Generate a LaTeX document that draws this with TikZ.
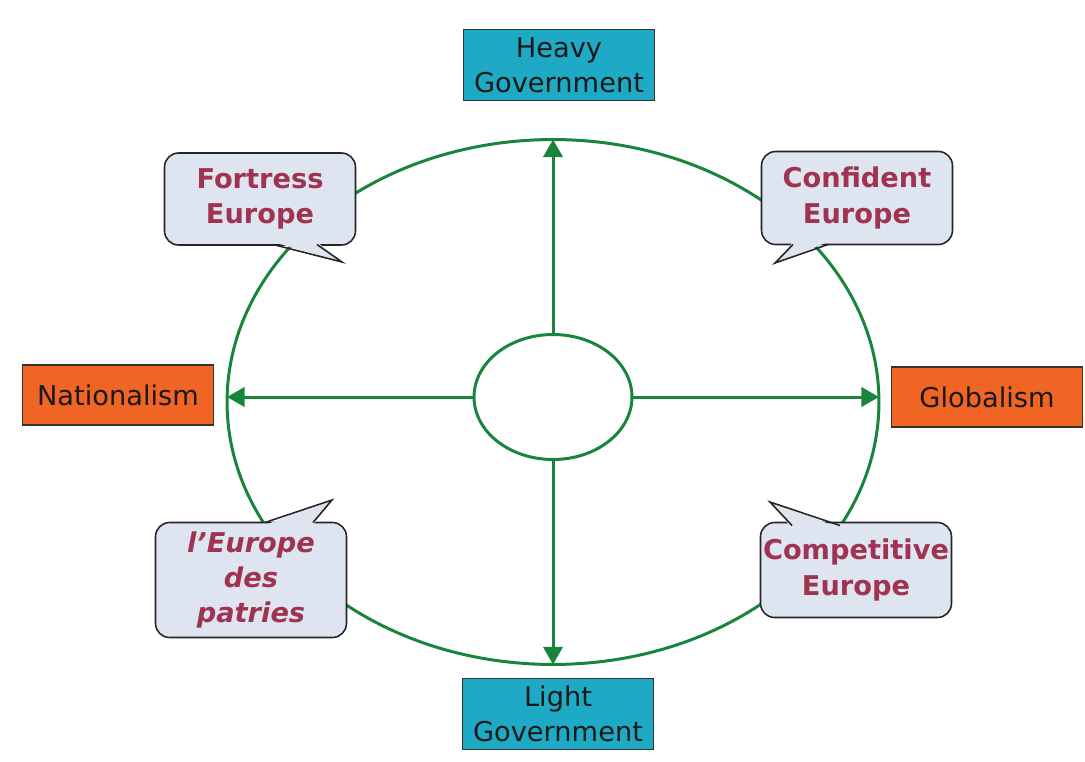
\documentclass[tikz,border=0pt]{standalone}
\usepackage{fontspec}
\setmainfont{DejaVu Sans}
\usetikzlibrary{shapes,arrows,arrows.meta,calc,positioning}
\definecolor{ringgreen}{RGB}{24,132,60}
\definecolor{govcyan}{RGB}{30,170,196}
\definecolor{nationorange}{RGB}{240,100,36}
\definecolor{bubble}{RGB}{222,228,240}
\definecolor{claret}{RGB}{160,52,80}

\begin{document}
\begin{tikzpicture}[x=0.02cm,y=-0.02cm,
    axis/.style={line width=1.7pt,draw=ringgreen,-{Triangle[length=10pt,width=11pt]},fill=ringgreen},
    pole/.style={draw=black!80,line width=0.8pt,minimum width=3.82cm,align=center,inner sep=0pt,
      font=\fontsize{15.5}{20}\selectfont,text=black!90},
    gov/.style={pole,fill=govcyan,minimum height=1.42cm},
    ism/.style={pole,fill=nationorange,minimum height=1.2cm},
    bubbletext/.style={draw=black!85,line width=0.9pt,fill=bubble,rounded corners=8pt,align=center,
      minimum width=3.82cm,inner sep=0pt,text=claret,font=\fontsize{15.5}{20}\selectfont\bfseries},
    tail/.style={draw=black!85,line width=0.9pt,line join=miter}]
    \useasboundingbox (0,0) rectangle (1085,761);

    \node[ellipse,draw=ringgreen,line width=1.7pt,minimum width=13.04cm,minimum height=10.5cm,inner sep=0pt,outer sep=0pt] (ring) at (553,402) {};
    \node[ellipse,draw=ringgreen,line width=1.7pt,minimum width=3.16cm,minimum height=2.5cm,inner sep=0pt,outer sep=0pt] (hub) at (553,397) {};

    \draw[axis] (hub.north) -- (ring.north);
    \draw[axis] (hub.south) -- (ring.south);
    \draw[axis] (hub.west) -- (hub.west -| ring.west);
    \draw[axis] (hub.east) -- (hub.east -| ring.east);

    \node[gov] (heavy) at (559,65) {Heavy\\Government};
    \node[gov] (light) at (558,714) {Light\\Government};
    \node[ism] (nation) at (118,395) {Nationalism};
    \node[ism] (global) at (987,397) {Globalism};

    % speech bubbles
    \node[bubbletext,minimum height=1.84cm] (fortress) at (260,199) {Fortress\\Europe};
    \coordinate (fortressTip) at (342,262);
    \fill[bubble] (273,242) -- (fortressTip) -- (317,242) -- cycle;
    \draw[tail] (273,244.5) -- (fortressTip) -- (317,244.5);

    \node[bubbletext,minimum height=1.86cm] (confident) at (857,198) {Confident\\Europe};
    \coordinate (confidentTip) at (775,263);
    \fill[bubble] (793,242) -- (confidentTip) -- (828,242) -- cycle;
    \draw[tail] (793,244.5) -- (confidentTip) -- (828,244.5);

    \node[bubbletext,minimum height=2.3cm,font=\fontsize{15.5}{20}\selectfont\bfseries\itshape] (patries) at (251,580) {l’Europe\\des\\patries};
    \coordinate (patriesTip) at (332,500);
    \fill[bubble] (265,525) -- (patriesTip) -- (313,525) -- cycle;
    \draw[tail] (265,522.5) -- (patriesTip) -- (313,522.5);

    \node[bubbletext,minimum height=1.9cm] (competitive) at (856,570) {Competitive\\Europe};
    \coordinate (competitiveTip) at (770,502);
    \fill[bubble] (792,528) -- (competitiveTip) -- (840,528) -- cycle;
    \draw[tail] (792,525.5) -- (competitiveTip) -- (840,525.5);
\end{tikzpicture}
\end{document}
